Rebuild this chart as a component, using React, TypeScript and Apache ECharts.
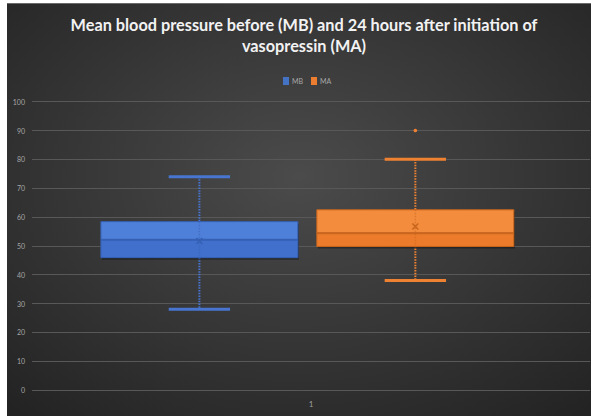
import React, { useEffect, useRef } from "react";
import * as echarts from "echarts";

const categories = ["1"];
const seriesNames = ["MB", "MA"];
// [categoryIndex, min, Q1, median, Q3, max, mean]
const mbStats = [[0, 28, 45.9, 52.1, 58.4, 74, 51.7]];
const maStats = [[0, 38, 49.8, 54.4, 62.5, 80, 56.7]];
const maOutliers = [[0, 90]];
const yTicks = { min: 0, max: 100, interval: 10 };

const palette = {
  MB: { top: "#4f80d9", bottom: "#4070cc", line: "#3560b4", whisker: "#4775cf" },
  MA: { top: "#f38c3c", bottom: "#ec7c2b", line: "#c8651e", whisker: "#ef8232" },
};

function makeRender(offsetFrac: number, colors: any) {
  return (params: any, api: any) => {
    const cat = api.value(0);
    const band = api.size([1, 0])[0];
    const cx = api.coord([cat, 0])[0] + band * offsetFrac;
    const y = (v: number) => api.coord([cat, v])[1];
    const yMin = y(api.value(1));
    const yQ1 = y(api.value(2));
    const yMed = y(api.value(3));
    const yQ3 = y(api.value(4));
    const yMax = y(api.value(5));
    const yMean = y(api.value(6));
    const bw = band * 0.353;
    const cw = band * 0.11;
    const x0 = cx - bw / 2;
    const m = 3;
    return {
      type: "group",
      children: [
        {
          type: "line",
          shape: { x1: cx, y1: yMax, x2: cx, y2: yMin },
          style: { stroke: colors.whisker, lineWidth: 2, lineDash: [1.5, 1.2] },
          z2: 1,
        },
        {
          type: "rect",
          shape: { x: x0 + 1, y: yQ3 + 2, width: bw, height: yQ1 - yQ3 },
          style: { fill: "rgba(0,0,0,0.35)" },
          z2: 2,
        },
        {
          type: "rect",
          shape: { x: x0, y: yQ3, width: bw, height: yMed - yQ3 },
          style: { fill: colors.top, stroke: colors.line, lineWidth: 1 },
          z2: 3,
        },
        {
          type: "rect",
          shape: { x: x0, y: yMed, width: bw, height: yQ1 - yMed },
          style: { fill: colors.bottom, stroke: colors.line, lineWidth: 1 },
          z2: 3,
        },
        {
          type: "line",
          shape: { x1: cx, y1: yQ3, x2: cx, y2: yQ1 },
          style: { stroke: colors.line, lineWidth: 1.5, lineDash: [1.5, 1.5], opacity: 0.5 },
          z2: 4,
        },
        {
          type: "line",
          shape: { x1: x0, y1: yMed, x2: x0 + bw, y2: yMed },
          style: { stroke: colors.line, lineWidth: 2 },
          z2: 5,
        },
        {
          type: "line",
          shape: { x1: cx - cw / 2, y1: yMax, x2: cx + cw / 2, y2: yMax },
          style: { stroke: colors.whisker, lineWidth: 3 },
          z2: 5,
        },
        {
          type: "line",
          shape: { x1: cx - cw / 2, y1: yMin, x2: cx + cw / 2, y2: yMin },
          style: { stroke: colors.whisker, lineWidth: 3 },
          z2: 5,
        },
        {
          type: "line",
          shape: { x1: cx - m, y1: yMean - m, x2: cx + m, y2: yMean + m },
          style: { stroke: colors.line, lineWidth: 1.5 },
          z2: 6,
        },
        {
          type: "line",
          shape: { x1: cx - m, y1: yMean + m, x2: cx + m, y2: yMean - m },
          style: { stroke: colors.line, lineWidth: 1.5 },
          z2: 6,
        },
      ],
    };
  };
}

function makeOutlierRender(offsetFrac: number, color: string) {
  return (params: any, api: any) => {
    const cat = api.value(0);
    const band = api.size([1, 0])[0];
    const p = api.coord([cat, api.value(1)]);
    return {
      type: "circle",
      shape: { cx: p[0] + band * offsetFrac, cy: p[1], r: 1.8 },
      style: { fill: color },
    };
  };
}

export default function App() {
  const ref = useRef<HTMLDivElement>(null);
  useEffect(() => {
    document.body.style.margin = "0";
    const chart = echarts.init(ref.current!, null, { renderer: "svg" });
    const offB = -0.2;
    const offA = 0.187;
    chart.setOption({
      animation: false,
      graphic: [
        {
          type: "rect",
          z: -10,
          silent: true,
          shape: { x: 7, y: 3, width: 584, height: 413 },
          style: {
            fill: {
              type: "radial",
              x: 0.5,
              y: 0.42,
              r: 0.75,
              colorStops: [
                { offset: 0, color: "#4b4b4b" },
                { offset: 1, color: "#232323" },
              ],
            },
          },
        },
        {
          type: "line",
          z: -9,
          silent: true,
          shape: { x1: 7, y1: 3.5, x2: 591, y2: 3.5 },
          style: { stroke: "#6a6a6a", lineWidth: 1 },
        },
      ],
      title: {
        text: "Mean blood pressure before (MB) and 24 hours after initiation of\nvasopressin (MA)",
        left: 299,
        top: 9,
        textAlign: "center",
        textStyle: {
          color: "#f2f2f2",
          fontFamily: "Lato",
          fontWeight: "bold",
          fontSize: 16.3,
          lineHeight: 21,
        },
      },
      legend: {
        data: seriesNames,
        top: 72,
        left: 278,
        icon: "rect",
        itemWidth: 6,
        itemHeight: 8,
        itemGap: 8,
        textStyle: { color: "#a8a8a8", fontSize: 7, fontFamily: "Lato", padding: [0, 0, 0, -2] },
      },
      grid: { left: 32, right: 1, top: 101.7, bottom: 26, containLabel: false },
      xAxis: {
        type: "category",
        data: categories,
        axisLine: { show: false },
        axisTick: { show: false },
        axisLabel: { color: "#a0a0a0", fontSize: 8, margin: 10, fontFamily: "Lato" },
      },
      yAxis: {
        type: "value",
        min: yTicks.min,
        max: yTicks.max,
        interval: yTicks.interval,
        axisLine: { show: false },
        axisTick: { show: false },
        axisLabel: { color: "#a6a6a6", fontSize: 7, margin: 7, fontFamily: "Lato" },
        splitLine: { lineStyle: { color: "#585858", width: 1 } },
      },
      series: [
        {
          name: "MB",
          type: "custom",
          renderItem: makeRender(offB, palette.MB),
          itemStyle: { color: "#4472c4" },
          encode: { x: 0, y: [1, 2, 3, 4, 5] },
          data: mbStats,
        },
        {
          name: "MA",
          type: "custom",
          renderItem: makeRender(offA, palette.MA),
          itemStyle: { color: "#ed7d31" },
          encode: { x: 0, y: [1, 2, 3, 4, 5] },
          data: maStats,
        },
        {
          name: "MA outliers",
          type: "custom",
          renderItem: makeOutlierRender(offA, palette.MA.whisker),
          encode: { x: 0, y: 1 },
          data: maOutliers,
        },
      ],
    });
    return () => chart.dispose();
  }, []);
  return <div ref={ref} style={{ width: 591, height: 416 }} />;
}
